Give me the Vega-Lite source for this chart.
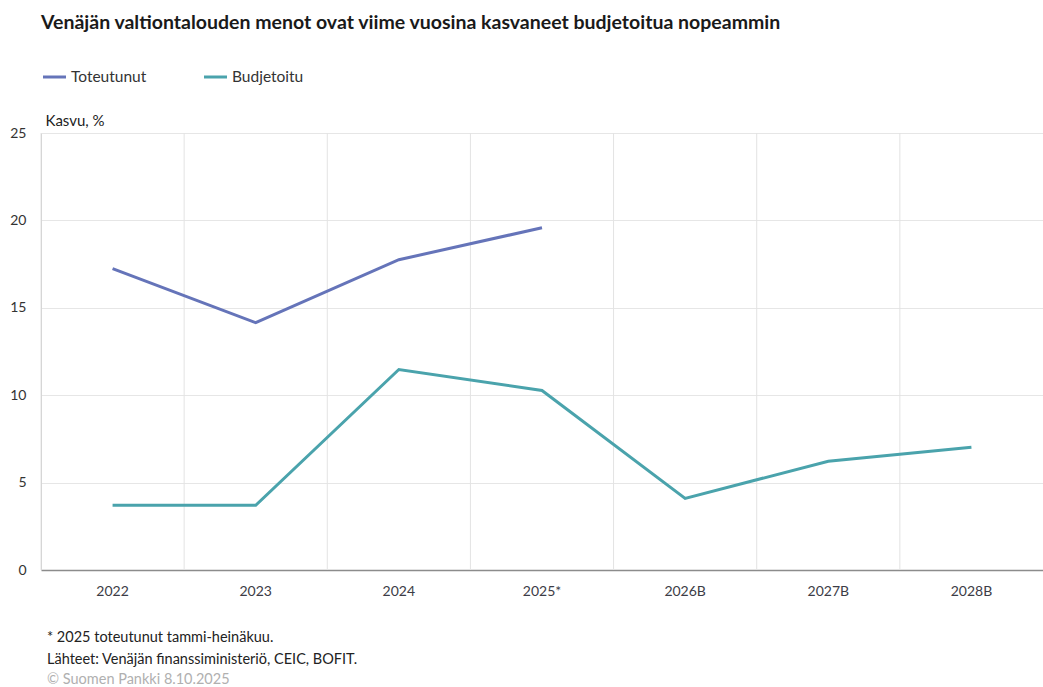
{
  "$schema": "https://vega.github.io/schema/vega-lite/v6.json",
  "width": 1043,
  "height": 687,
  "autosize": {"type": "fit", "contains": "padding"},
  "padding": {"left": 9, "right": 0, "top": 14, "bottom": 1},
  "background": "white",
  "config": {"font": "Lato", "view": {"stroke": null}},
  "title": {
    "text": ["* 2025 toteutunut tammi-heinäkuu.", "Lähteet: Venäjän finanssiministeriö, CEIC, BOFIT."],
    "subtitle": "© Suomen Pankki 8.10.2025",
    "orient": "bottom",
    "anchor": "start",
    "frame": "group",
    "fontSize": 14.5,
    "fontWeight": "normal",
    "color": "#222222",
    "subtitleColor": "#b0b0b0",
    "subtitleFontSize": 14.5,
    "lineHeight": 22,
    "offset": 33,
    "dx": 6,
    "subtitlePadding": 5
  },
  "data": {
    "values": [
      {"cat": "2022", "series": "Toteutunut", "value": 17.24},
      {"cat": "2023", "series": "Toteutunut", "value": 14.15},
      {"cat": "2024", "series": "Toteutunut", "value": 17.75},
      {"cat": "2025*", "series": "Toteutunut", "value": 19.58},
      {"cat": "2022", "series": "Budjetoitu", "value": 3.71},
      {"cat": "2023", "series": "Budjetoitu", "value": 3.7},
      {"cat": "2024", "series": "Budjetoitu", "value": 11.47},
      {"cat": "2025*", "series": "Budjetoitu", "value": 10.27},
      {"cat": "2026B", "series": "Budjetoitu", "value": 4.1},
      {"cat": "2027B", "series": "Budjetoitu", "value": 6.22},
      {"cat": "2028B", "series": "Budjetoitu", "value": 7.02}
    ]
  },
  "layer": [
    {
      "transform": [{"filter": "datum.series === 'Budjetoitu'"}],
      "mark": {"type": "rule", "color": "#e3e3e3", "strokeWidth": 1},
      "encoding": {
        "x": {
          "field": "cat", "type": "ordinal", "bandPosition": 0,
          "sort": ["2022", "2023", "2024", "2025*", "2026B", "2027B", "2028B"],
          "scale": {"type": "band", "paddingInner": 0, "paddingOuter": 0},
          "axis": {"title": null, "grid": false, "ticks": false, "domainColor": "#8c8c8c", "domainWidth": 1.5, "labelColor": "#3c3c46", "labelFontSize": 14, "labelPadding": 14, "labelAngle": 0}
        }
      }
    },
    {
      "mark": {"type": "line", "strokeWidth": 3},
      "encoding": {
        "x": {
          "field": "cat", "type": "ordinal", "bandPosition": 0.5,
          "sort": ["2022", "2023", "2024", "2025*", "2026B", "2027B", "2028B"],
          "scale": {"type": "band", "paddingInner": 0, "paddingOuter": 0},
          "axis": {"title": null, "grid": false, "ticks": false, "domainColor": "#8c8c8c", "domainWidth": 1.5, "labelColor": "#3c3c46", "labelFontSize": 14, "labelPadding": 14, "labelAngle": 0}
        },
        "y": {
          "field": "value", "type": "quantitative",
          "scale": {"domain": [0, 25], "nice": false},
          "axis": {
            "title": "Kasvu, %", "titleAngle": 0, "titleAlign": "left", "titleBaseline": "bottom",
            "titleX": 4, "titleY": -5, "titleFontWeight": "normal", "titleFontSize": 15, "titleColor": "#222222",
            "values": [0, 5, 10, 15, 20, 25], "grid": true, "gridColor": "#e6e6e6",
            "domainColor": "#c8c8c8", "ticks": false, "labelPadding": 15, "labelFontSize": 14, "labelColor": "#333333"
          }
        },
        "color": {
          "field": "series", "type": "nominal",
          "scale": {"domain": ["Toteutunut", "Budjetoitu"], "range": ["#6574b9", "#4aa3ac"]},
          "legend": {
            "orient": "top", "direction": "horizontal",
            "title": "Venäjän valtiontalouden menot ovat viime vuosina kasvaneet budjetoitua nopeammin",
            "titleFontSize": 19.5, "titleFontWeight": "bold", "titleColor": "#1a1a1a", "titleLimit": 1000,
            "titlePadding": 30, "symbolType": "stroke", "symbolStrokeWidth": 3, "symbolSize": 530,
            "labelFontSize": 15.5, "labelColor": "#333333", "labelOffset": 3, "columnPadding": 50, "offset": 47
          }
        }
      }
    }
  ]
}
